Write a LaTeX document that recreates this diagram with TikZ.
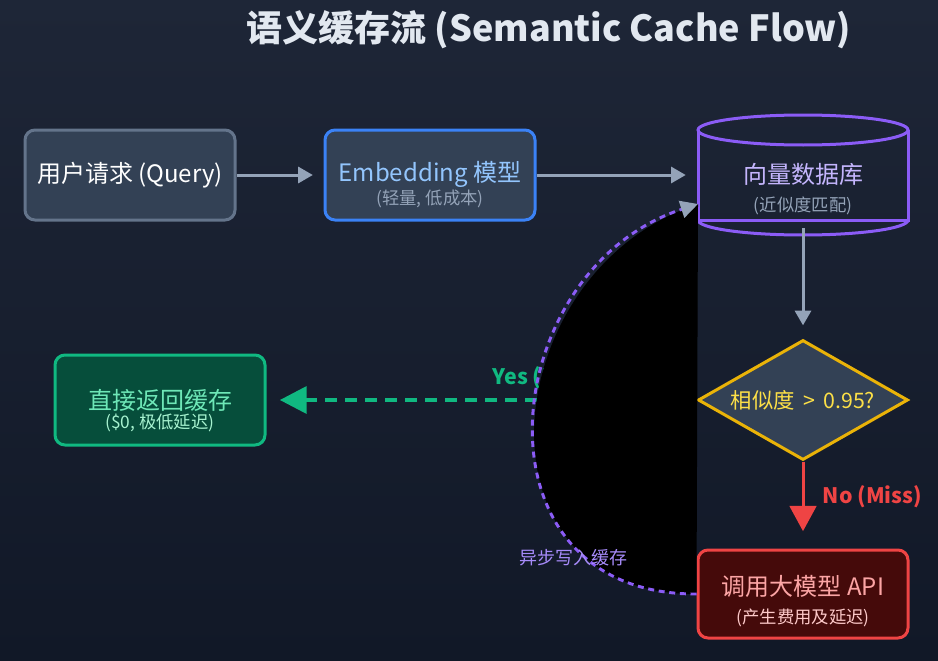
\documentclass[tikz,border=0pt]{standalone}
\usepackage{fontspec}
\setmainfont{Noto Sans CJK SC}
\usetikzlibrary{arrows.meta,shapes.geometric}

\definecolor{bgtop}{HTML}{1E2637}
\definecolor{bgbot}{HTML}{111827}
\definecolor{slatebox}{HTML}{334155}
\definecolor{slateline}{HTML}{64748B}
\definecolor{grayarrow}{HTML}{94A3B8}
\definecolor{embline}{HTML}{3B82F6}
\definecolor{embtext}{HTML}{93C5FD}
\definecolor{dbline}{HTML}{8B5CF6}
\definecolor{dbtext}{HTML}{C4B5FD}
\definecolor{asynctext}{HTML}{A78BFA}
\definecolor{decline}{HTML}{EAB308}
\definecolor{dectext}{HTML}{FDE047}
\definecolor{hitline}{HTML}{10B981}
\definecolor{hitbox}{HTML}{064E3B}
\definecolor{hittext}{HTML}{6EE7B7}
\definecolor{hitsub}{HTML}{A7F3D0}
\definecolor{missline}{HTML}{EF4444}
\definecolor{missbox}{HTML}{450A0A}
\definecolor{misstext}{HTML}{FCA5A5}
\definecolor{misssub}{HTML}{FECACA}
\definecolor{titletext}{HTML}{E2E8F0}

\tikzset{
  flowbox/.style={draw, line width=2.25pt, rounded corners=7.5pt,
    minimum width=157.5pt, minimum height=67.5pt},
  maintext/.style={font=\fontsize{18}{21}\selectfont},
  subtext/.style={font=\fontsize{13}{15}\selectfont},
  flowarrow/.style={draw=grayarrow, line width=2.25pt,
    -{Triangle[length=11pt,width=12pt]}},
}

\begin{document}
\begin{tikzpicture}[x=0.75pt,y=-0.75pt]

\shade[top color=bgtop, bottom color=bgbot] (0,0) rectangle (938,660);
\useasboundingbox (0,0) rectangle (938,660);

\node[text=titletext, font=\bfseries\fontsize{27}{32}\selectfont] (title) at (549,30)
{语义缓存流 (Semantic Cache Flow)};

\node[flowbox, draw=slateline, fill=slatebox] (query) at (130,175) {};
\node[maintext, text=white] (queryT) at (130,175) {用户请求 (Query)};

\node[flowbox, draw=embline, fill=slatebox] (emb) at (430,175) {};
\node[maintext, text=embtext] (embT) at (430,174) {Embedding 模型};
\node[subtext, text=grayarrow] (embS) at (430,199) {(轻量, 低成本)};

\node[minimum width=157.5pt, minimum height=67.5pt] (db) at (803,175) {};
\draw[dbline, line width=2.25pt] (698,130) -- (698,220) -- (908,220) -- (908,130);
\draw[dbline, line width=2.25pt] (803,130) ellipse [x radius=105, y radius=15];
\draw[dbline, line width=2.25pt] (698,220) arc [start angle=180, end angle=0,
  x radius=105, y radius=15];
\node[maintext, text=dbtext] (dbT) at (803,174) {向量数据库};
\node[subtext, text=grayarrow] (dbS) at (803,206) {(近似度匹配)};

\draw[flowarrow, shorten >=8pt] (query.east) -- (emb.west);
\draw[flowarrow, shorten >=9pt] (emb.east) -- (db.west);
\draw[flowarrow, shorten <=6pt, shorten >=11pt] (db.south) -- (803,340);

\node[flowbox, draw=hitline, fill=hitbox] (hit) at (160,400) {};
\node[maintext, text=hittext] (hitT) at (160,400) {直接返回缓存};
\node[subtext, text=hitsub] (hitS) at (160,423) {(\$0, 极低延迟)};

\node[draw=decline, fill=slatebox, line width=2.25pt, shape=diamond, aspect=1.75,
  inner sep=0pt, minimum width=157.5pt, minimum height=90pt,
  text=dectext, font=\fontsize{16}{18}\selectfont] (dec) at (803,400) {相似度 \,>\, 0.95?};

\draw[hitline, line width=3pt, dash pattern=on 9pt off 6pt, shorten >=10pt,
  -{Triangle[length=20pt,width=20pt,sep=0pt]}] (dec.west) -- (hit.east);
\node[anchor=west, text=hitline, font=\bfseries\fontsize{16}{18}\selectfont] (yes)
  at (488,378) {Yes (Hit)};

\node[flowbox, draw=missline, fill=missbox, minimum height=66pt] (api) at (803,594) {};
\node[maintext, text=misstext] (apiT) at (803,586) {调用大模型 API};
\node[subtext, text=misssub] (apiS) at (803,618) {(产生费用及延迟)};

\draw[missline, line width=2.25pt, shorten >=13pt,
  -{Triangle[length=19pt,width=20pt]}] (dec.south) -- (api.north);
\node[anchor=west, text=missline, font=\bfseries\fontsize{16}{18}\selectfont] (no)
  at (818,497) {No (Miss)};

\fill[black] (api.west) .. controls (465,595) and (495,270) .. (698,204) -- cycle;
\draw[dbline, line width=2.2pt, dash pattern=on 4.5pt off 3.5pt,
  -{Triangle[length=13pt,width=13pt,color=grayarrow]}]
  (api.west) .. controls (465,595) and (495,270) .. (698,204);
\node[font=\fontsize{13.5}{16}\selectfont, text=asynctext] (async) at (573,558) {异步写入缓存};

\end{tikzpicture}
\end{document}
